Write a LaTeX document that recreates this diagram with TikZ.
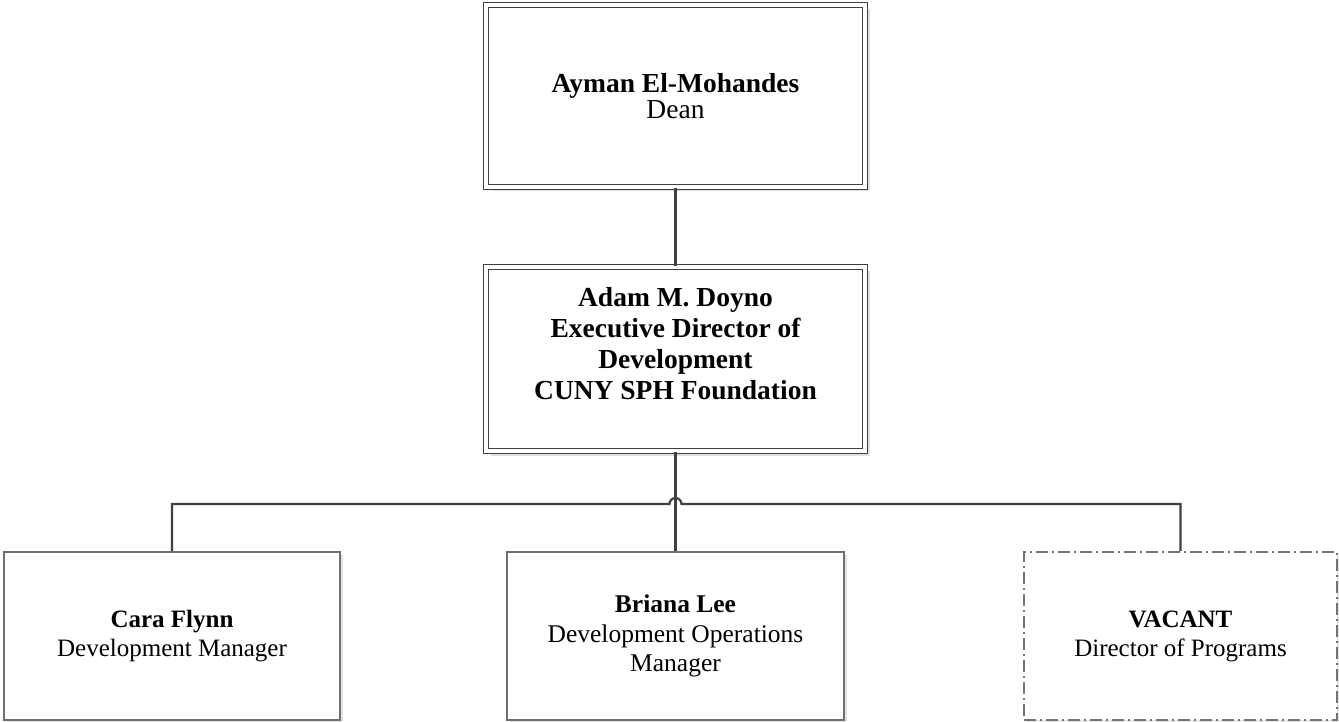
\documentclass[tikz,border=0pt]{standalone}
\usepackage{fontspec}
\setmainfont{Liberation Serif}
\usetikzlibrary{shadows}
\definecolor{lineC}{HTML}{404040}
\definecolor{boxC}{HTML}{6E6E6E}
\tikzset{
  topbox/.style={draw=lineC, line width=1.3pt, double=white, double distance=3.5pt,
    fill=white, align=center, inner sep=0pt,
    drop shadow={shadow xshift=4.5pt, shadow yshift=-4.5pt, fill=black!12, opacity=1}},
  childbox/.style={draw=boxC, line width=1.6pt, fill=white, align=center, inner sep=0pt,
    minimum height=168pt,
    drop shadow={shadow xshift=3pt, shadow yshift=-3pt, fill=black!10, opacity=1}},
  vacantbox/.style={childbox, draw=black!55, dash pattern=on 12pt off 4pt on 2pt off 4pt},
  conn/.style={draw=lineC, line width=2.2pt}
}
\begin{document}
\begin{tikzpicture}[x=1pt,y=-1pt]
\useasboundingbox (0,0) rectangle (1339,722);
\fill[white] (0,0) rectangle (1339,722);
\node[topbox, minimum width=379pt, minimum height=182pt, font=\fontsize{27.5}{25.5}\selectfont]
  (dean) at (675.5,96) {\textbf{Ayman El-Mohandes}\\Dean};
\node[topbox, minimum width=379pt, minimum height=184pt, font=\fontsize{27.5}{31}\selectfont\bfseries]
  (adam) at (675.5,359) {Adam M. Doyno\\Executive Director of\\Development\\CUNY SPH Foundation\\\mbox{}};
\node[childbox, minimum width=336pt, font=\fontsize{25}{29}\selectfont]
  (cara) at (172,636) {\textbf{Cara Flynn}\\Development Manager};
\node[childbox, minimum width=337pt, font=\fontsize{25.5}{29.5}\selectfont]
  (briana) at (675.5,636) {\textbf{Briana Lee}\\Development Operations\\Manager};
\node[vacantbox, minimum width=313pt, font=\fontsize{25}{29}\selectfont]
  (vacant) at (1180.5,636) {\textbf{VACANT}\\Director of Programs};
\draw[conn] (dean.south) -- (adam.north);
\draw[conn] (adam.south) -- (briana.north);
\draw[conn] (cara.north) |- (669.5,504) arc[start angle=180, end angle=360, radius=6] -| (vacant.north);
\end{tikzpicture}
\end{document}
